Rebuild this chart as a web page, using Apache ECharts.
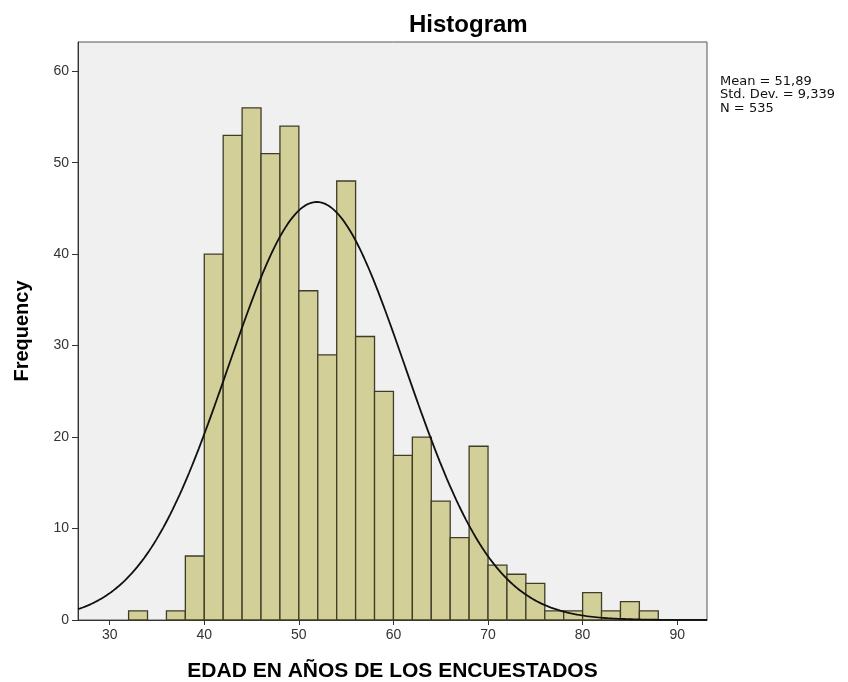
<!DOCTYPE html>
<html>
<head>
<meta charset="utf-8">
<script src="https://cdn.jsdelivr.net/npm/echarts@6/dist/echarts.min.js"></script>
<style>
html,body{margin:0;padding:0;background:#ffffff;}
#chart{width:848px;height:682px;}
</style>
</head>
<body>
<div id="chart"></div>
<script>
// ---- data ----
const BIN_WIDTH = 2;
const BIN_START = [32, 34, 36, 38, 40, 42, 44, 46, 48, 50, 52, 54, 56, 58, 60, 62, 64, 66, 68, 70, 72, 74, 76, 78, 80, 82, 84, 86];
const FREQUENCY = [1, 0, 1, 7, 40, 53, 56, 51, 54, 36, 29, 48, 31, 25, 18, 20, 13, 9, 19, 6, 5, 4, 1, 1, 3, 1, 2, 1];
const X_TICKS = [30, 40, 50, 60, 70, 80, 90];
const Y_TICKS = [0, 10, 20, 30, 40, 50, 60];
const MEAN = 51.89;
const STD_DEV = 9.339;
const N = 535;
const STATS_TEXT = ['Mean = 51,89', 'Std. Dev. = 9,339', 'N = 535'];
const X_MIN = 26.65, X_MAX = 93.15;
const Y_MIN = 0, Y_MAX = 63.2;

// fitted normal curve defined by the stated Mean, Std. Dev. and N
const curve = [];
for (let i = 0; i <= 266; i++) {
  const x = X_MIN + i * 0.25;
  const z = (x - MEAN) / STD_DEV;
  const y = N * BIN_WIDTH / (STD_DEV * Math.sqrt(2 * Math.PI)) * Math.exp(-0.5 * z * z);
  curve.push([x, y]);
}

const barData = BIN_START.map((s, i) => [s, s + BIN_WIDTH, FREQUENCY[i]]);

const chart = echarts.init(document.getElementById('chart'), null, {renderer: 'canvas'});
const FONT = '"Liberation Sans", Arial, sans-serif';

chart.setOption({
  animation: false,
  backgroundColor: '#ffffff',
  title: {
    text: 'Histogram',
    left: 404,
    top: 8,
    textStyle: {fontFamily: FONT, fontSize: 24, fontWeight: 'bold', color: '#000000'}
  },
  grid: {
    left: 78, top: 42, right: 141, bottom: 62,
    outerBoundsMode: 'none',
    containLabel: false,
    show: true,
    backgroundColor: '#f0f0f0',
    borderColor: '#555555',
    borderWidth: 1
  },
  xAxis: {
    type: 'value',
    min: X_MIN, max: X_MAX,
    name: 'EDAD EN AÑOS DE LOS ENCUESTADOS',
    nameLocation: 'middle',
    nameGap: 41,
    nameTextStyle: {fontFamily: FONT, fontSize: 21, fontWeight: 'bold', color: '#000000'},
    axisLine: {show: true, lineStyle: {color: '#333333', width: 1}},
    axisTick: {show: true, length: 5, customValues: X_TICKS, lineStyle: {color: '#333333'}},
    axisLabel: {customValues: X_TICKS, margin: 8, fontFamily: FONT, fontSize: 14, color: '#333333'},
    splitLine: {show: false}
  },
  yAxis: {
    type: 'value',
    min: Y_MIN, max: Y_MAX,
    name: 'Frequency',
    nameLocation: 'middle',
    nameGap: 46,
    nameRotate: 90,
    nameTextStyle: {fontFamily: FONT, fontSize: 20, fontWeight: 'bold', color: '#000000'},
    axisLine: {show: true, lineStyle: {color: '#333333', width: 1}},
    axisTick: {show: true, length: 6, customValues: Y_TICKS, lineStyle: {color: '#333333'}},
    axisLabel: {customValues: Y_TICKS, margin: 9, fontFamily: FONT, fontSize: 14, color: '#333333'},
    splitLine: {show: false}
  },
  graphic: [{
    type: 'text',
    left: 720,
    top: 75,
    style: {
      text: STATS_TEXT.join('\n'),
      font: '13px "DejaVu Sans", sans-serif',
      lineHeight: 13.3,
      fill: '#111111'
    }
  }],
  series: [{
    type: 'custom',
    data: barData,
    encode: {x: [0, 1], y: 2},
    renderItem: function (params, api) {
      const f = api.value(2);
      if (!f) return null;
      const p0 = api.coord([api.value(0), f]);
      const p1 = api.coord([api.value(1), 0]);
      return {
        type: 'rect',
        shape: {x: p0[0], y: p0[1], width: p1[0] - p0[0], height: p1[1] - p0[1]},
        style: {fill: '#d3cf98', stroke: '#3f3d28', lineWidth: 1.3}
      };
    },
    z: 2
  }, {
    type: 'line',
    data: curve,
    showSymbol: false,
    symbol: 'none',
    smooth: false,
    clip: true,
    lineStyle: {color: '#111111', width: 1.8},
    z: 3
  }]
});
</script>
</body>
</html>
